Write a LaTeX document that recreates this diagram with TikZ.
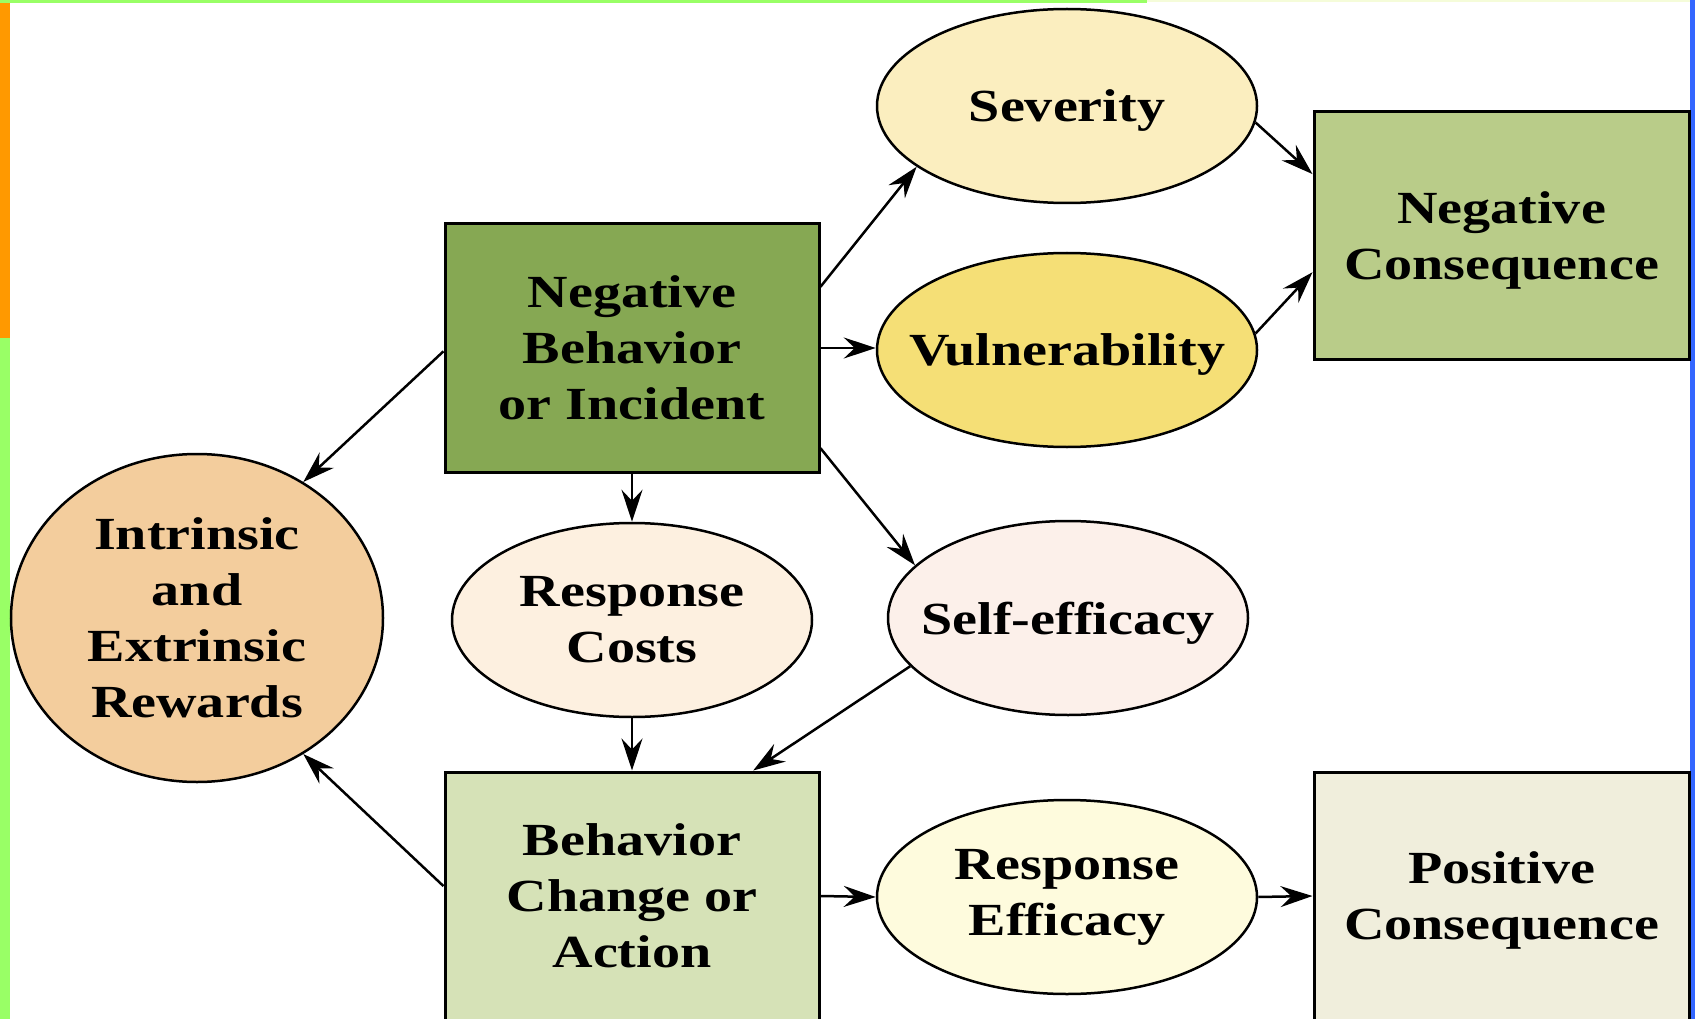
\documentclass[tikz,border=0pt]{standalone}
\usepackage{fontspec}
\setmainfont[FakeStretch=1.22]{Liberation Serif}
\usetikzlibrary{shapes.geometric,arrows.meta}
\definecolor{nbgreen}{HTML}{86A853}
\definecolor{ncgreen}{HTML}{B9CC89}
\definecolor{bcgreen}{HTML}{D6E2B7}
\definecolor{pccream}{HTML}{F0EEDC}
\definecolor{sevcol}{HTML}{FBEEBF}
\definecolor{vulcol}{HTML}{F5DF76}
\definecolor{rewcol}{HTML}{F3CD9D}
\definecolor{rccol}{HTML}{FDF0E0}
\definecolor{secol}{HTML}{FCF0EA}
\definecolor{recol}{HTML}{FEFBDD}
\definecolor{stripgreen}{HTML}{99FF66}
\definecolor{striporange}{HTML}{FF9900}
\definecolor{stripblue}{HTML}{3366FF}
\definecolor{strippale}{HTML}{F5FCD9}
\begin{document}
\begin{tikzpicture}[x=1pt,y=-1pt,line width=2.5pt,
  >={Stealth[length=32pt,width=21pt,inset=11pt]},
  every node/.style={font=\fontsize{46}{56}\selectfont\bfseries,align=center},
  box/.style={draw,line width=3pt,minimum width=374pt,minimum height=248pt},
  oval/.style={draw,ellipse,inner sep=-120pt,minimum width=380pt,minimum height=194pt}]
\useasboundingbox (0,0) rectangle (1695,1019);
% slide edges
\fill[stripgreen] (0,0) rectangle (1147,3);
\fill[strippale] (1147,0) rectangle (1690,2);
\fill[striporange] (0,3) rectangle (10,338);
\fill[stripgreen] (0,338) rectangle (10,1019);
\fill[stripblue] (1690,0) rectangle (1695,1019);
\path
node[box,fill=nbgreen] (nb) at (632,348) {Negative\\Behavior\\or Incident}
node[oval,fill=sevcol,text depth=0pt] (sev) at (1067,106) {Severity}
node[oval,fill=vulcol,text depth=0pt] (vul) at (1067,350) {Vulnerability}
node[box,fill=ncgreen,minimum width=375pt,text depth=0pt] (nc) at (1501.5,235.5) {Negative\\Consequence}
node[oval,fill=rewcol,minimum width=372pt,minimum height=328pt] (rew) at (197,618) {Intrinsic\\and\\Extrinsic\\Rewards}
node[oval,fill=rccol,minimum width=360pt] (rc) at (632,620) {Response\\Costs}
node[oval,fill=secol,minimum width=360pt,text depth=0pt] (se) at (1068,618) {Self-efficacy}
node[box,fill=bcgreen] (bc) at (632,896) {Behavior\\Change or\\Action}
node[oval,fill=recol] (re) at (1067,897) {Response\\Efficacy}
node[box,fill=pccream,minimum width=375pt,text depth=0pt] (pc) at (1501.5,896) {Positive\\Consequence};
\draw[->] (nb.18) -- (sev.202);
\draw[->] (nb.east) -- (nb.east -| vul.west);
\draw[->] (nb.-28) -- (se.161);
\draw[->] (nb.south) -- (rc.north);
\draw[->] (nb.181) -- (rew.52);
\draw[->] (sev.-5) -- (nc.162);
\draw[->] (vul.5) -- (nc.191);
\draw[->] (rc.south) -- (bc.north);
\draw[->] (se.197) -- (bc.46);
\draw[->] (bc.177) -- (rew.-52);
\draw[->] (bc.east) -- (re.west);
\draw[->] (re.east) -- (pc.west);
\end{tikzpicture}
\end{document}
